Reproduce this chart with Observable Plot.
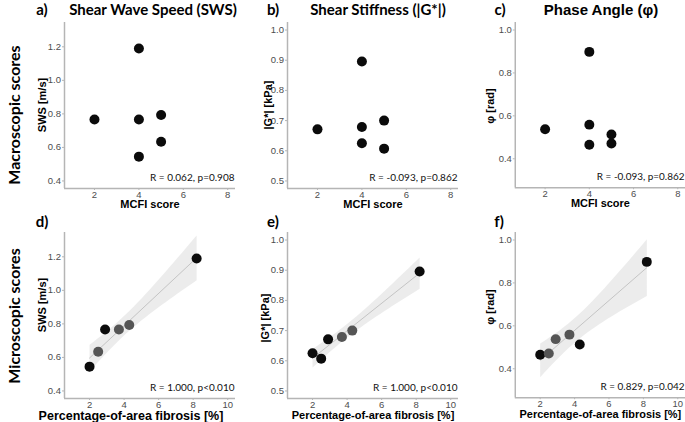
<!DOCTYPE html>
<html>
<head>
<meta charset="utf-8">
<script src="https://cdn.jsdelivr.net/npm/d3@7"></script>
<script src="https://cdn.jsdelivr.net/npm/@observablehq/plot@0.6"></script>
<style>
  body { margin: 0; background: #fff; }
  #root { position: relative; width: 685px; height: 422px; overflow: hidden; font-family: "Liberation Sans", Arial, sans-serif; }
  .abs { position: absolute; white-space: nowrap; line-height: 1; transform: translate(-50%, -50%); color: #000; }
  .letter { font-family: Lato, sans-serif; font-weight: bold; font-size: 15px; }
  .ptitle { font-family: Lato, sans-serif; font-weight: bold; font-size: 15px; }
  .ptitle.arial { font-family: "Liberation Sans", Arial, sans-serif; font-size: 15px; }
  .rowlab { font-family: Lato, sans-serif; font-weight: bold; font-size: 16px; transform: translate(-50%, -50%) rotate(-90deg); }
  .ylab { font-family: "Liberation Sans", Arial, sans-serif; font-weight: bold; font-size: 11px; transform: translate(-50%, -50%) rotate(-90deg); }
  .panel { position: absolute; }
</style>
</head>
<body>
<div id="root"></div>
<script>
// ---------- data ----------
const sampleIds    = ["S1", "S2", "S3", "S4", "S5", "S6"];
const mcfiScore    = [4, 5, 2, 4, 5, 4];
const fibrosisPct  = [2.0, 2.5, 2.9, 3.7, 4.3, 8.2];
const swsValues    = [0.545, 0.634, 0.767, 0.767, 0.793, 1.19];
const gStarValues  = [0.625, 0.607, 0.671, 0.679, 0.700, 0.896];
const phaseValues  = [0.465, 0.471, 0.538, 0.559, 0.513, 0.898];

// shading group of the points in the microscopic panels
const shadeSWS   = ["dark", "light", "dark", "light", "light", "dark"];
const shadeGStar = ["dark", "dark", "dark", "light", "light", "dark"];
const shadePhase = ["dark", "light", "light", "light", "dark", "dark"];

const panelLetters = ["a)", "b)", "c)", "d)", "e)", "f)"];
const columnTitles = ["Shear Wave Speed (SWS)", "Shear Stiffness (|G*|)", "Phase Angle (φ)"];
const rowTitles    = ["Macroscopic scores", "Microscopic scores"];
const yLabels      = ["SWS [m/s]", "|G*| [kPa]", "φ [rad]"];
const xLabels      = ["MCFI score", "Percentage-of-area fibrosis [%]"];
const statLabels   = ["R = 0.062, p=0.908", "R = -0.093, p=0.862", "R = -0.093, p=0.862",
                      "R = 1.000, p<0.010", "R = 1.000, p<0.010", "R = 0.829, p=0.042"];

const mcfiTicks  = [2, 4, 6, 8];
const fibTicks   = [2, 4, 6, 8, 10];
const swsTicks   = [0.4, 0.6, 0.8, 1.0, 1.2];
const gStarTicks = [0.5, 0.6, 0.7, 0.8, 0.9, 1.0];
const phaseTicks = [0.4, 0.6, 0.8, 1.0];

const mcfiDomain  = [0.65, 8.35];
const fibDomain   = [0.55, 10.45];
const swsDomain   = [0.355, 1.345];
const gStarDomain = [0.475, 1.025];
const phaseDomain = [0.265, 1.035];

// ---------- layout ----------
const root = document.getElementById("root");
const frameLefts = [64, 287, 515];
const frameW = 171;
const frameTops = [22, 232];
const frameH = 166;
const ML = 52, MT = 2;

const rows = sampleIds.map((id, i) => ({
  id, mcfi: mcfiScore[i], fib: fibrosisPct[i],
  sws: swsValues[i], g: gStarValues[i], phi: phaseValues[i],
  shSWS: shadeSWS[i], shG: shadeGStar[i], shPhi: shadePhase[i]
}));

const yKeys = ["sws", "g", "phi"];
const yDomains = [swsDomain, gStarDomain, phaseDomain];
const yTickSets = [swsTicks, gStarTicks, phaseTicks];
const shadeKeys = ["shSWS", "shG", "shPhi"];

function makePanel(r, c) {
  const micro = r === 1;
  const xKey = micro ? "fib" : "mcfi";
  const yKey = yKeys[c];
  const MB = micro ? 24 : 34;
  const bigX = micro && c === 0;
  const marks = [];
  if (micro) {
    marks.push(Plot.linearRegressionY(rows, {
      x: xKey, y: yKey, ci: 0.95, fill: "#a0a0a0", fillOpacity: 0.2,
      stroke: "#c4c4c4", strokeWidth: 1
    }));
  }
  marks.push(
    Plot.ruleX([(micro ? fibDomain : mcfiDomain)[0]], {stroke: "#b5b5b5", strokeWidth: 1.5}),
    Plot.ruleY([yDomains[c][0]], {stroke: "#b5b5b5", strokeWidth: 1.5}),
    Plot.axisX(micro ? fibTicks : mcfiTicks, {
      tickSize: 2, tickPadding: 0.5, stroke: "#b5b5b5", fill: "#4d4d4d",
      fontSize: 9.5, label: null, tickFormat: d => String(d)
    }),
    Plot.axisY(yTickSets[c], {
      tickSize: 2, tickPadding: 1.5, stroke: "#b5b5b5", fill: "#4d4d4d",
      fontSize: 9.5, label: null, tickFormat: d3.format(".1f")
    }),
    Plot.dot(rows, {
      x: xKey, y: yKey, r: 5, stroke: null,
      fill: micro ? shadeKeys[c] : () => "dark"
    }),
    Plot.text([statLabels[r * 3 + c]], {
      frameAnchor: "bottom-right", textAnchor: "end", lineAnchor: "middle",
      dx: -1, dy: -11, fontSize: 10, fontFamily: "Lato, sans-serif", fill: "#111"
    }),
    Plot.text([xLabels[r]], {
      frameAnchor: "bottom", textAnchor: "middle", lineAnchor: "middle",
      dx: bigX ? -19 : 0, dy: micro ? 17 : 16, fontSize: bigX ? 12.5 : 11,
      fontWeight: "bold", fill: "#000"
    })
  );
  const svg = Plot.plot({
    width: ML + frameW, height: MT + frameH + MB,
    marginLeft: ML, marginRight: 0, marginTop: MT, marginBottom: MB,
    style: {fontFamily: "'Liberation Sans', Arial, sans-serif", background: "transparent", overflow: "visible"},
    x: {domain: micro ? fibDomain : mcfiDomain},
    y: {domain: yDomains[c]},
    color: {domain: ["dark", "light"], range: ["#0b0b0b", "#555555"]},
    marks
  });
  const wrap = document.createElement("div");
  wrap.className = "panel";
  wrap.style.left = (frameLefts[c] - ML) + "px";
  wrap.style.top = (frameTops[r] - MT) + "px";
  wrap.appendChild(svg);
  root.appendChild(wrap);
}

for (let r = 0; r < 2; r++) for (let c = 0; c < 3; c++) makePanel(r, c);

function addText(text, cls, x, y) {
  const d = document.createElement("div");
  d.className = "abs " + cls;
  d.style.left = x + "px";
  d.style.top = y + "px";
  d.textContent = text;
  root.appendChild(d);
}

const letterPos = [[42, 9], [273, 9], [500, 9], [42, 221], [273, 221], [499, 221]];
panelLetters.forEach((t, i) => addText(t, "letter", letterPos[i][0], letterPos[i][1]));
const titlePos = [[153, 9], [378, 9], [601, 9]];
columnTitles.forEach((t, i) => addText(t, i === 2 ? "ptitle arial" : "ptitle", titlePos[i][0], titlePos[i][1]));
const yLabelPos = [[[42, 105], [268, 105], [490, 106]], [[42, 305], [265, 318], [490, 307]]];
for (let r = 0; r < 2; r++) for (let c = 0; c < 3; c++) addText(yLabels[c], "ylab", yLabelPos[r][c][0], yLabelPos[r][c][1]);
addText(rowTitles[0], "rowlab", 14, 115);
addText(rowTitles[1], "rowlab", 14, 316);
</script>
</body>
</html>
